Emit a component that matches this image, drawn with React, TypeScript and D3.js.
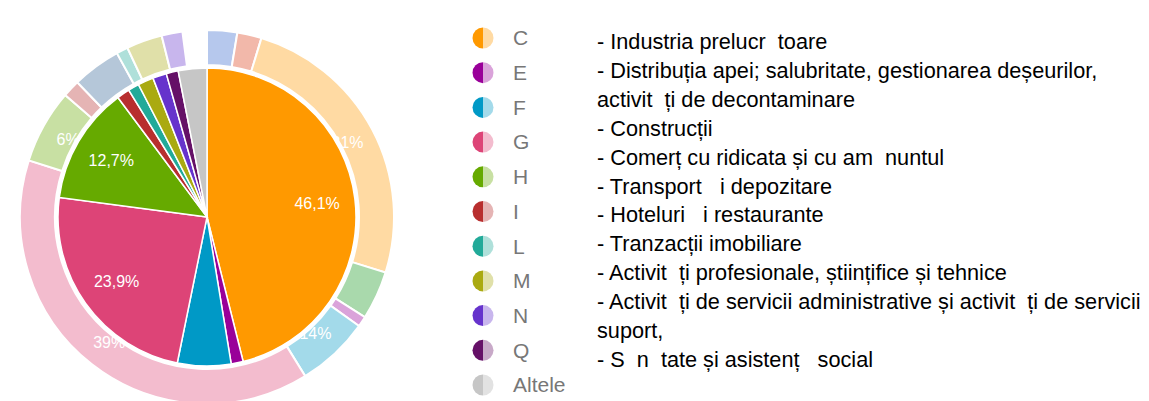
import * as d3 from 'd3'

const width = 1149
const height = 401

// inner pie: share (%) per section
const innerCodes = ['C', 'E', 'F', 'G', 'H', 'I', 'L', 'M', 'N', 'Q', 'Altele']
const innerValues = [46.1, 1.3, 5.8, 23.9, 12.7, 1.4, 1.2, 1.7, 1.5, 1.3, 3.1]
const innerColors = ['#ff9900', '#990099', '#0099c6', '#dd4477', '#66aa00', '#b82e2e', '#22aa99', '#aaaa11', '#6633cc', '#651067', '#c6c6c6']

// outer ring: share (%) per section, does not close the circle
const outerCodes = ['A', 'B', 'C', 'D', 'E', 'F', 'G', 'H', 'I', 'J', 'L', 'M', 'N']
const outerValues = [2.6, 2.1, 25.1, 4.2, 0.9, 6.3, 38.7, 6.4, 1.5, 4.2, 1.0, 3.1, 1.8]
const outerLabels = [null, null, '21%', null, null, '14%', '39%', '6%', null, null, null, null, null]
const outerColors = ['#3366cc', '#dc3912', '#ff9900', '#109618', '#990099', '#0099c6', '#dd4477', '#66aa00', '#b82e2e', '#316395', '#22aa99', '#aaaa11', '#6633cc']

// legend
const legendCodes = innerCodes
const legendText = [
  '- Industria prelucr  toare',
  '- Distribuția apei; salubritate, gestionarea deșeurilor,',
  'activit  ți de decontaminare',
  '- Construcții',
  '- Comerț cu ridicata și cu am  nuntul',
  '- Transport   i depozitare',
  '- Hoteluri   i restaurante',
  '- Tranzacții imobiliare',
  '- Activit  ți profesionale, științifice și tehnice',
  '- Activit  ți de servicii administrative și activit  ți de servicii',
  'suport,',
  '- S  n  tate și asistenț   social',
]

const light = (c: string) => (c === '#c6c6c6' ? '#e2e2e2' : d3.interpolateRgb('#ffffff', c)(0.36))

export default function App() {
  const cx = 207
  const cy = 217
  const rPie = 149
  const rRingIn = 152
  const rRingOut = 187

  const innerPie = d3.pie<number>().sort(null).value(d => d)(innerValues)
  const outerTotal = d3.sum(outerValues)
  const angle = d3.scaleLinear().domain([0, 100]).range([0, 2 * Math.PI])
  const outerPie = d3.pie<number>().sort(null).value(d => d)
    .startAngle(0).endAngle(angle(outerTotal))(outerValues)

  const innerArc = d3.arc<d3.PieArcDatum<number>>().innerRadius(0).outerRadius(rPie)
  const innerLabelArc = d3.arc<d3.PieArcDatum<number>>().innerRadius(111).outerRadius(111)
  const ringArc = d3.arc<d3.PieArcDatum<number>>().innerRadius(rRingIn).outerRadius(rRingOut)
  const ringLabelArc = d3.arc<d3.PieArcDatum<number>>().innerRadius(159).outerRadius(159)

  const fmt = (v: number) => d3.format('.1f')(v).replace('.', ',') + '%'

  const legendY = d3.scaleLinear().domain([0, legendCodes.length - 1]).range([38, 385])
  const textY = d3.scaleLinear().domain([0, legendText.length - 1]).range([49, 367])
  const half = d3.arc<any>().innerRadius(0).outerRadius(10.5)

  return (
    <svg
      width={width}
      height={height}
      style={{ position: 'absolute', left: 0, top: 0, display: 'block', background: '#fff' }}
      fontFamily="'Liberation Sans', Arial, sans-serif"
    >
      <g transform={`translate(${cx},${cy})`}>
        {outerPie.map((d, i) => (
          <path key={outerCodes[i]} d={ringArc(d) || ''} fill={light(outerColors[i])} stroke='#fff' strokeWidth={2} />
        ))}
        {outerPie.map((d, i) => {
          if (!outerLabels[i]) return null
          const [x, y] = ringLabelArc.centroid(d)
          return (
            <text key={'ol' + i} x={x} y={y} dy='0.35em' textAnchor='middle' fill='#fff' fontSize={16}>
              {outerLabels[i]}
            </text>
          )
        })}
        {innerPie.map((d, i) => (
          <path key={innerCodes[i]} d={innerArc(d) || ''} fill={innerColors[i]} stroke='#fff' strokeWidth={1.5} />
        ))}
        {innerPie.map((d, i) => {
          if (d.data < 10) return null
          const [x, y] = innerLabelArc.centroid(d)
          return (
            <text key={'il' + i} x={x} y={y} dy='0.35em' textAnchor='middle' fill='#fff' fontSize={16}>
              {fmt(d.data)}
            </text>
          )
        })}
      </g>

      {legendCodes.map((c, i) => (
        <g key={c} transform={`translate(483,${legendY(i)})`}>
          <path d={half({ startAngle: Math.PI, endAngle: 2 * Math.PI }) || ''} fill={innerColors[i]} />
          <path d={half({ startAngle: 0, endAngle: Math.PI }) || ''} fill={light(innerColors[i])} />
          <text x={30} dy='0.35em' fontSize={21} fill='#777'>{c}</text>
        </g>
      ))}

      {legendText.map((t, i) => (
        <text key={i} x={597} y={textY(i)} fontSize={21.7} fill='#000' style={{ whiteSpace: 'pre' }}>
          {t}
        </text>
      ))}
    </svg>
  )
}
